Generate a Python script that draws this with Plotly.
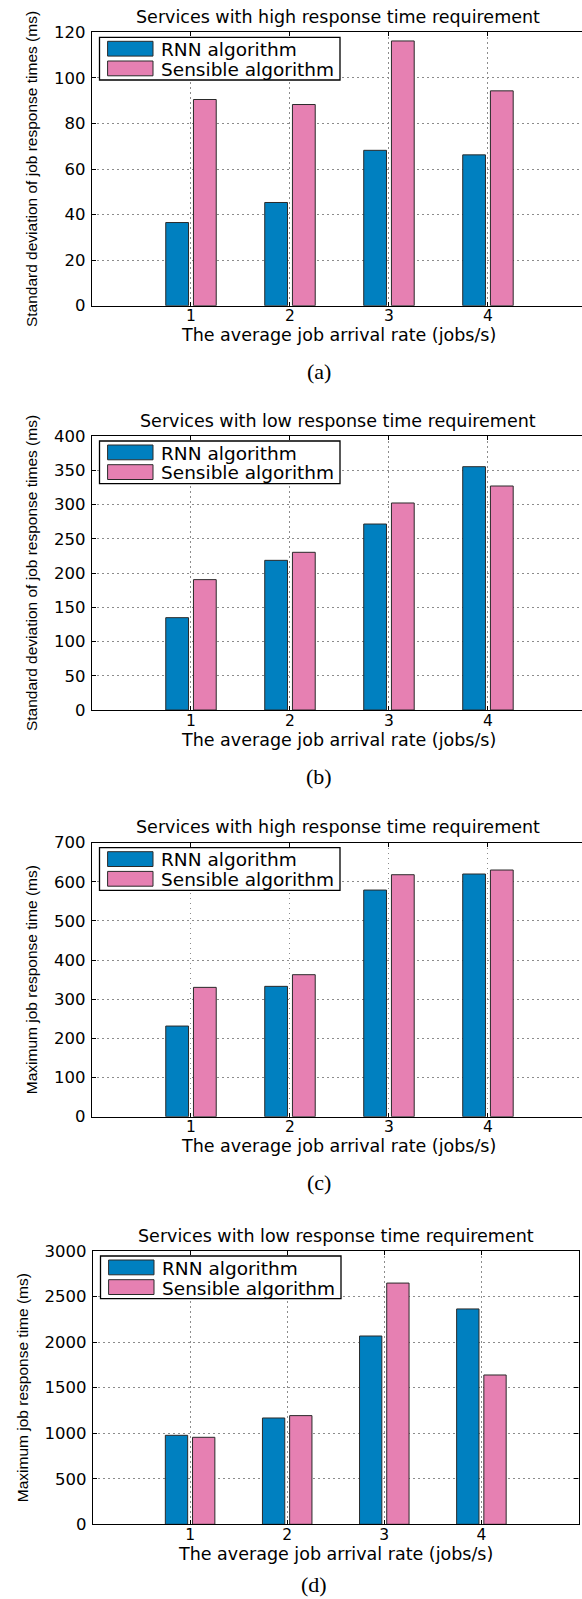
import plotly.graph_objects as go

# ---- data -------------------------------------------------------------
arrival_rates = [1, 2, 3, 4]
rate_labels = ["1", "2", "3", "4"]
series_names = ["RNN algorithm", "Sensible algorithm"]

# (a) std. dev. of response times, high requirement services
rnn_std_high = [36.5, 45.3, 68.2, 66.2]
sensible_std_high = [90.5, 88.3, 116.2, 94.3]
# (b) std. dev. of response times, low requirement services
rnn_std_low = [134.8, 218.5, 271.5, 355.2]
sensible_std_low = [190.3, 230.2, 302.2, 327.0]
# (c) maximum response time, high requirement services
rnn_max_high = [231.6, 333.0, 579.0, 620.0]
sensible_max_high = [330.4, 362.8, 618.2, 630.2]
# (d) maximum response time, low requirement services
rnn_max_low = [977, 1167, 2067, 2364]
sensible_max_low = [955, 1193, 2648, 1639]

panel_titles = [
    "Services with high response time requirement",
    "Services with low response time requirement",
    "Services with high response time requirement",
    "Services with low response time requirement",
]
y_titles = [
    "Standard deviation of job response times (ms)",
    "Standard deviation of job response times (ms)",
    "Maximum job response time (ms)",
    "Maximum job response time (ms)",
]
x_title = "The average job arrival rate (jobs/s)"
captions = ["(a)", "(b)", "(c)", "(d)"]
y_ticks = [
    [0, 20, 40, 60, 80, 100, 120],
    [0, 50, 100, 150, 200, 250, 300, 350, 400],
    [0, 100, 200, 300, 400, 500, 600, 700],
    [0, 500, 1000, 1500, 2000, 2500, 3000],
]
panel_series = [
    (rnn_std_high, sensible_std_high),
    (rnn_std_low, sensible_std_low),
    (rnn_max_high, sensible_max_high),
    (rnn_max_low, sensible_max_low),
]

# ---- layout geometry (pixels) ----------------------------------------
W, H = 582, 1599
# left, right, top, bottom of each plotting area, and x-range max
frames = [
    (92, 582, 32.3, 305.7, 4.95),
    (92, 582, 436.0, 710.0, 4.95),
    (92, 582, 842.7, 1116.7, 4.95),
    (93, 578.5, 1251.0, 1524.3, 5.0),
]
caption_x = [319, 319, 319, 314]

BLUE = "#0080C0"
PINK = "#E680B2"
EDGE = "#2a2a2a"
SANS = "DejaVu Sans"
NARROW = "Liberation Sans"
SERIF = "Liberation Serif"

BAR_W = 0.23
OFFSETS = [-0.255, 0.025]


def px_x(p):
    return p / W


def px_y(p):
    return 1 - p / H


fig = go.Figure()
annotations = []
shapes = []

for i, (series, frame) in enumerate(zip(panel_series, frames)):
    left, right, top, bottom, xmax = frame
    xa = "x" if i == 0 else f"x{i + 1}"
    ya = "y" if i == 0 else f"y{i + 1}"
    for j, (vals, color) in enumerate(zip(series, [BLUE, PINK])):
        fig.add_trace(
            go.Bar(
                x=arrival_rates,
                y=vals,
                name=series_names[j],
                width=BAR_W,
                offset=OFFSETS[j],
                marker=dict(color=color, line=dict(color=EDGE, width=1)),
                xaxis=xa,
                yaxis=ya,
                showlegend=False,
            )
        )

    axis_common = dict(
        showline=True,
        linecolor="black",
        linewidth=1.3,
        ticks="inside",
        ticklen=4,
        tickcolor="black",
        tickwidth=1,
        showgrid=True,
        gridcolor="#8c8c8c",
        gridwidth=1,
        griddash="1.5px,3.5px",
        zeroline=False,
        automargin=False,
    )
    fig.layout[f"xaxis{'' if i == 0 else i + 1}"] = dict(
        axis_common,
        mirror="ticks",
        domain=[px_x(left), px_x(right)],
        range=[0, xmax],
        anchor=ya,
        tickvals=arrival_rates,
        ticktext=rate_labels,
        ticklabelstandoff=-4,
        tickfont=dict(family=SANS, size=15.5, color="black"),
    )
    yt = y_ticks[i]
    fig.layout[f"yaxis{'' if i == 0 else i + 1}"] = dict(
        axis_common,
        # the right-hand frame edge of the wide panels lies past the page edge
        mirror="ticks" if i == 3 else False,
        domain=[px_y(bottom), px_y(top)],
        range=[yt[0], yt[-1]],
        anchor=xa,
        tickvals=yt,
        ticktext=[str(v) for v in yt],
        ticklabelstandoff=2,
        tickfont=dict(family=SANS, size=16.5, color="black"),
        title=dict(text=y_titles[i], font=dict(family=NARROW, size=15.5, color="black"), standoff=12),
    )

    # panel title
    annotations.append(dict(
        x=px_x(338 if i < 3 else 336), y=px_y(top - 15.5), xref="paper", yref="paper",
        text=panel_titles[i], showarrow=False, xanchor="center", yanchor="middle",
        font=dict(family=SANS, size=17.5, color="black"),
    ))
    # x-axis title, set tight under the tick labels
    annotations.append(dict(
        x=px_x(338 if i < 3 else 335), y=px_y(bottom + 29.5), xref="paper", yref="paper",
        text=x_title, showarrow=False, xanchor="center", yanchor="middle",
        font=dict(family=SANS, size=17.5, color="black"),
    ))
    # sub-figure caption
    if i < 3:
        cap = dict(y=px_y(bottom + 66), yanchor="middle")
    else:
        cap = dict(y=0, yanchor="bottom")
    annotations.append(dict(
        x=px_x(caption_x[i]), xref="paper", yref="paper",
        text=captions[i], showarrow=False, xanchor="center",
        font=dict(family=SERIF, size=22, color="black"), **cap,
    ))

    # legend box with colour swatches
    shapes.append(dict(
        type="rect", xref="paper", yref="paper",
        x0=px_x(left + 7.5), x1=px_x(left + 248), y0=px_y(top + 47.7), y1=px_y(top + 5),
        line=dict(color="black", width=1.3), fillcolor="white", layer="above",
    ))
    for j, color in enumerate([BLUE, PINK]):
        y0 = top + 9 + j * 19.7
        shapes.append(dict(
            type="rect", xref="paper", yref="paper",
            x0=px_x(left + 15.6), x1=px_x(left + 61), y0=px_y(y0 + 14.8), y1=px_y(y0),
            line=dict(color=EDGE, width=1), fillcolor=color, layer="above",
        ))
        annotations.append(dict(
            x=px_x(left + 67), y=px_y(top + 17 + j * 20), xref="paper", yref="paper",
            text=series_names[j], showarrow=False, xanchor="left", yanchor="middle",
            font=dict(family=SANS, size=18.5, color="black"),
        ))

fig.update_layout(
    width=W,
    height=H,
    margin=dict(l=0, r=0, t=0, b=0, autoexpand=False),
    paper_bgcolor="white",
    plot_bgcolor="white",
    barmode="overlay",
    showlegend=False,
    annotations=annotations,
    shapes=shapes,
)

fig.write_html("out.html")
